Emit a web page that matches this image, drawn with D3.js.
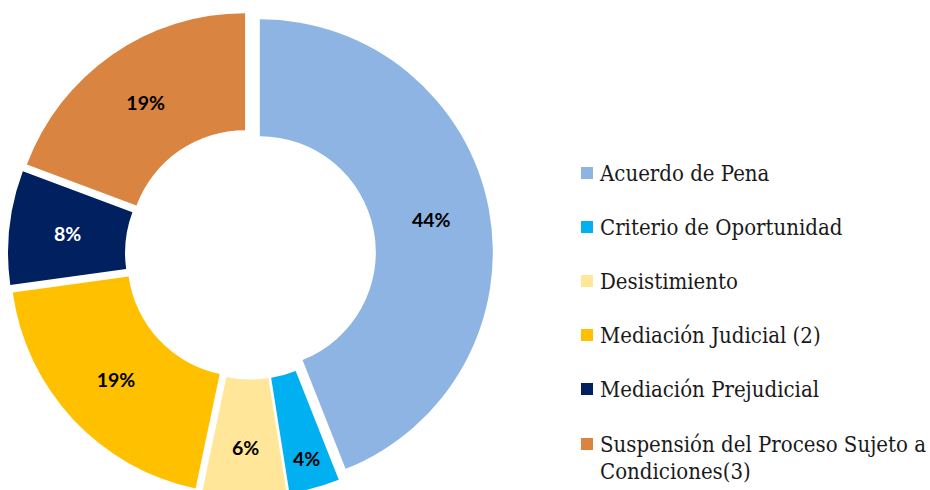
<!DOCTYPE html>
<html>
<head>
<meta charset="utf-8">
<script src="https://cdn.jsdelivr.net/npm/d3@7"></script>
<style>
  html, body { margin: 0; padding: 0; background: #fff; }
  svg { display: block; }
</style>
</head>
<body>
<svg id="chart" width="930" height="490"></svg>
<script>
// chart data (shares in %, labels as printed)
var categories = ["Acuerdo de Pena", "Criterio de Oportunidad", "Desistimiento",
  "Mediación Judicial (2)", "Mediación Prejudicial", "Suspensión del Proceso Sujeto a Condiciones(3)"];
var values = [44.0, 3.5, 5.8, 19.5, 7.9, 19.3];
var labels = ["44%", "4%", "6%", "19%", "8%", "19%"];
var legendLines = [["Acuerdo de Pena"], ["Criterio de Oportunidad"], ["Desistimiento"],
  ["Mediación Judicial (2)"], ["Mediación Prejudicial"], ["Suspensión del Proceso Sujeto a", "Condiciones(3)"]];

// styles
var colors = ["#8EB4E3", "#00B0F0", "#FFE699", "#FFC000", "#002060", "#DA8441"];
var labelColors = ["#000", "#000", "#000", "#000", "#fff", "#000"];

var svg = d3.select("#chart");
var cx = 250.5, cy = 254;
var outerR = 233, innerR = 116, explode = 9.5;
// narrow slices get their label pushed outward (best fit)
var labelPush = [0, 29, 10, 0, 0, 0];

var pie = d3.pie().sort(null).value(function (d) { return d; });
var arc = d3.arc().innerRadius(innerR).outerRadius(outerR);
var arcs = pie(values);

var g = svg.append("g").attr("transform", "translate(" + cx + "," + cy + ")");

var slice = g.selectAll("g.slice")
  .data(arcs)
  .enter().append("g")
  .attr("class", "slice")
  .attr("transform", function (d) {
    var a = (d.startAngle + d.endAngle) / 2;
    return "translate(" + (explode * Math.sin(a)) + "," + (-explode * Math.cos(a)) + ")";
  });

slice.append("path")
  .attr("d", arc)
  .style("fill", function (d, i) { return colors[i]; });

slice.append("text")
  .attr("transform", function (d, i) {
    var a = (d.startAngle + d.endAngle) / 2;
    var r = (innerR + outerR) / 2 + labelPush[i];
    return "translate(" + (r * Math.sin(a)) + "," + (-r * Math.cos(a)) + ")";
  })
  .attr("text-anchor", "middle")
  .attr("dy", "0.36em")
  .style("font-family", "Lato, 'Open Sans', sans-serif")
  .style("font-weight", "bold")
  .style("font-size", "19.5px")
  .style("fill", function (d, i) { return labelColors[i]; })
  .text(function (d, i) { return labels[i]; });

// legend
var legend = svg.append("g").attr("transform", "translate(581,0)");
var rowY = [173, 227, 281, 335, 389, 444];
var item = legend.selectAll("g.item")
  .data(categories)
  .enter().append("g")
  .attr("class", "item")
  .attr("transform", function (d, i) { return "translate(0," + rowY[i] + ")"; });

item.append("rect")
  .attr("x", 0).attr("y", -6)
  .attr("width", 12).attr("height", 12)
  .style("fill", function (d, i) { return colors[i]; });

item.append("text")
  .attr("x", 19)
  .style("font-family", "'DejaVu Serif Condensed', 'DejaVu Serif', serif")
  .style("font-stretch", "condensed")
  .style("font-size", "22px")
  .style("fill", "#1a1a1a")
  .each(function (d, i) {
    var t = d3.select(this);
    legendLines[i].forEach(function (line, j) {
      t.append("tspan").attr("x", 19).attr("y", j * 27).attr("dy", "0.36em").text(line);
    });
  });
</script>
</body>
</html>
